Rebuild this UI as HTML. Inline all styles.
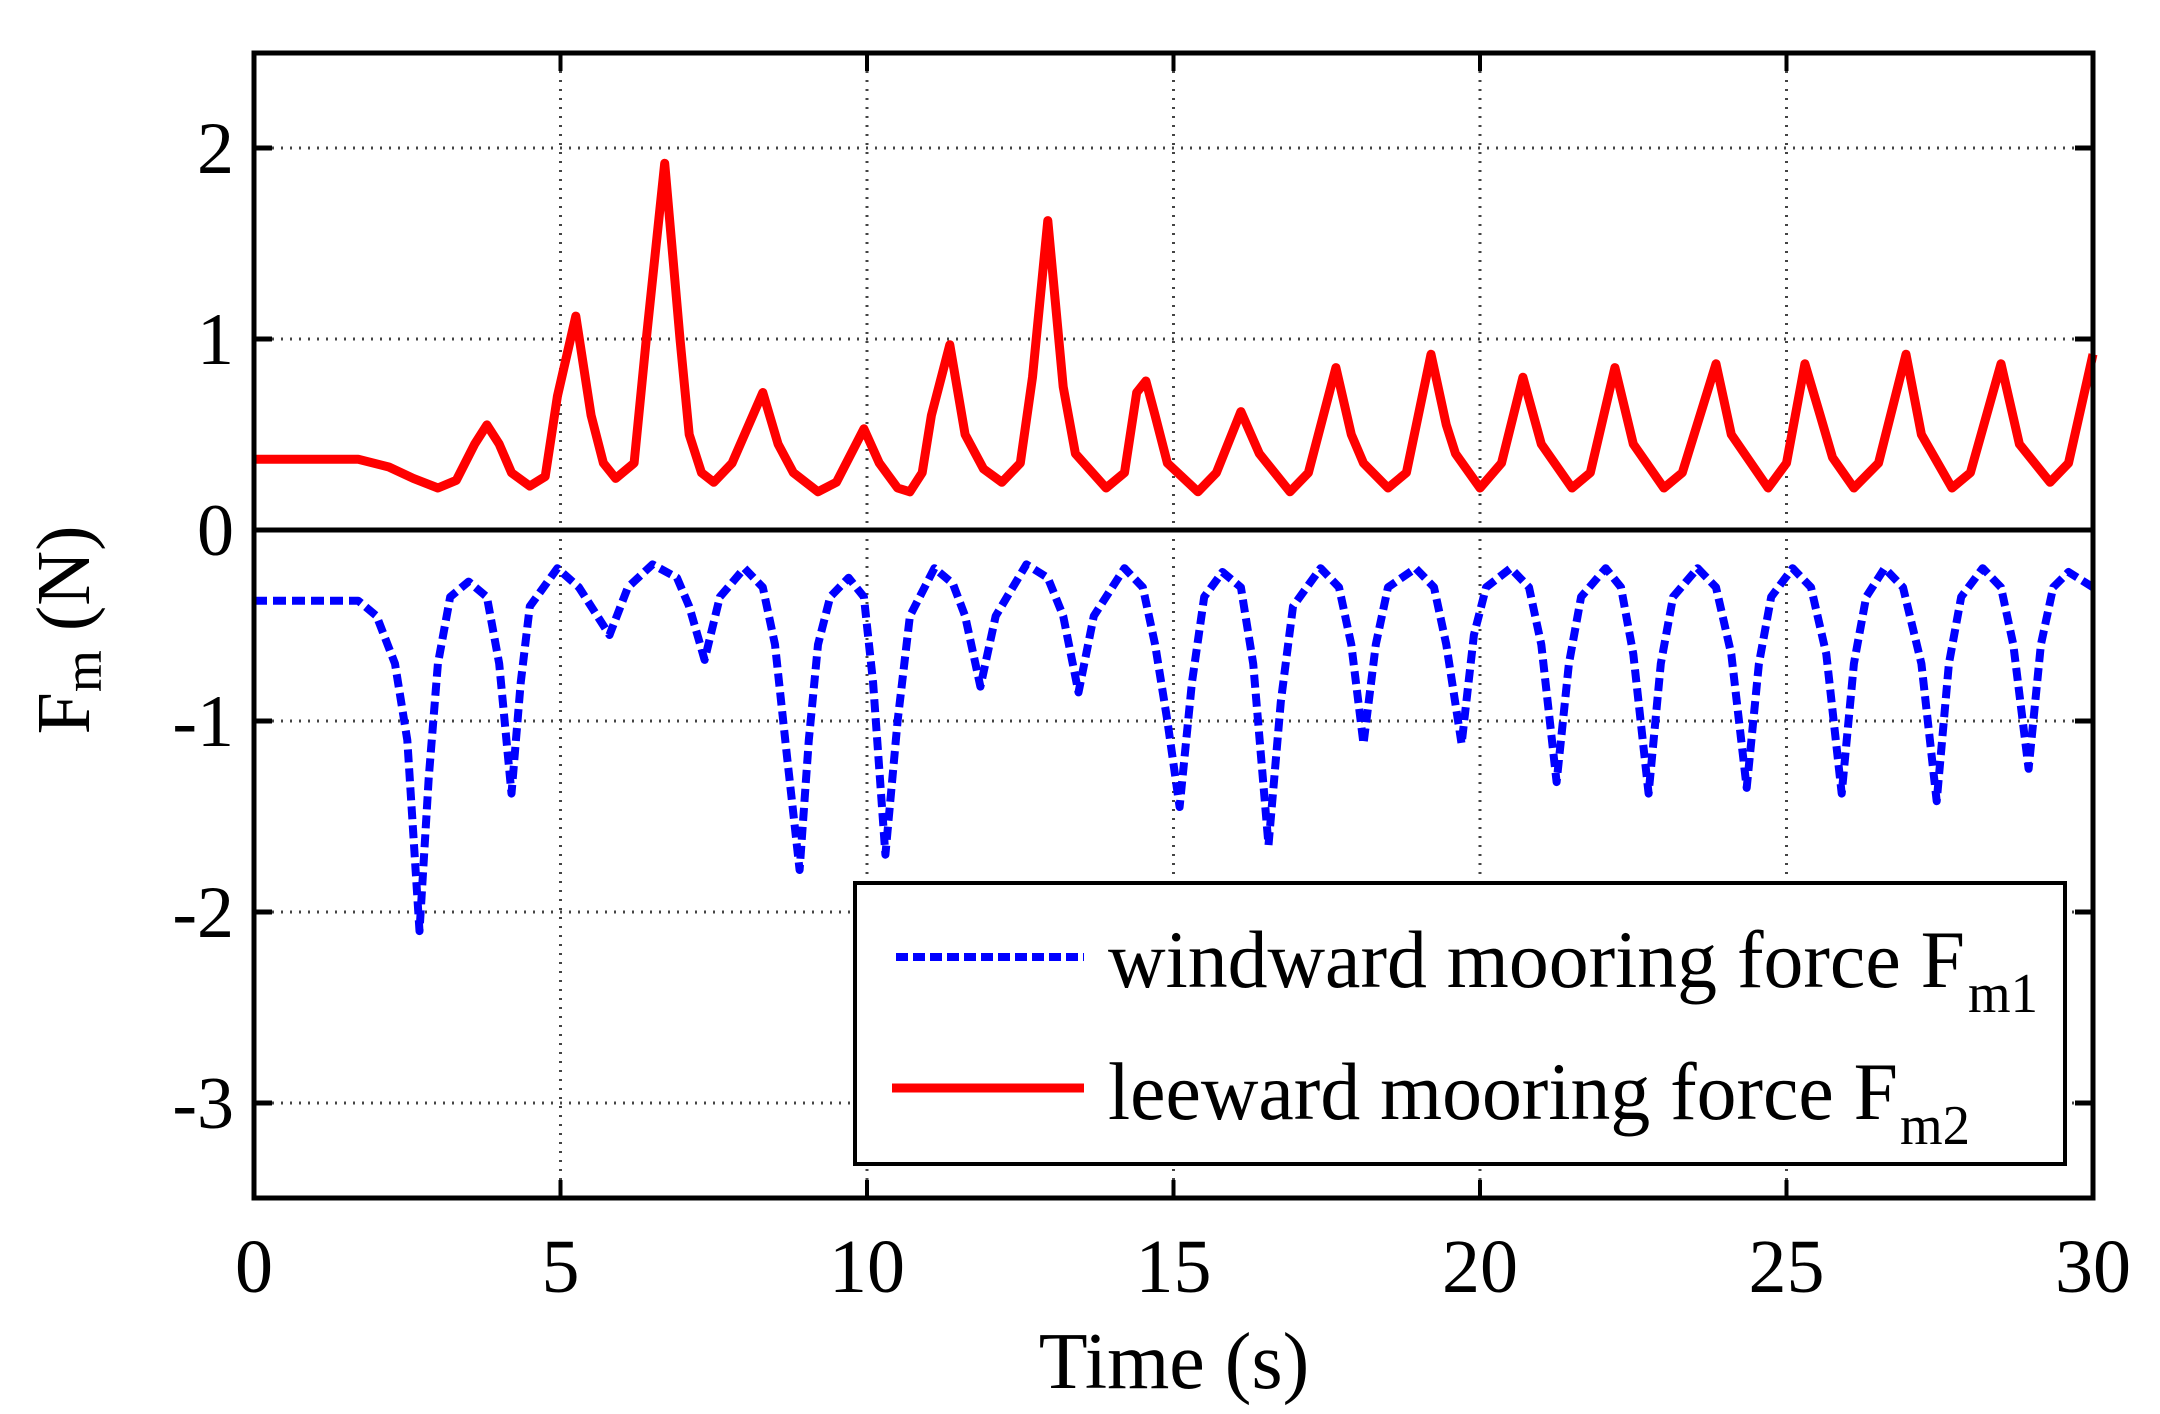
<!DOCTYPE html>
<html><head><meta charset="utf-8"><style>
html,body{margin:0;padding:0;background:#fff;}
svg{display:block;font-family:"Liberation Serif",serif;}
</style></head><body>
<svg id="chart" width="2160" height="1414" viewBox="0 0 2160 1414" xmlns="http://www.w3.org/2000/svg">
<g id="grid"></g>
<g id="series"></g>
<g id="axes"></g>
<text x="1174" y="1388" font-size="80" text-anchor="middle">Time (s)</text>
<text transform="translate(89,630) rotate(-90)" font-size="76" text-anchor="middle">F<tspan font-size="54" dy="12">m</tspan><tspan dy="-12"> (N)</tspan></text>
<g>
<rect x="855" y="883" width="1210" height="281" fill="#fff" stroke="#000" stroke-width="4"/>
<line x1="896" y1="957" x2="1084" y2="957" stroke="#0000ff" stroke-width="8" stroke-dasharray="12,5"/>
<text x="1108" y="987" font-size="82" textLength="857" lengthAdjust="spacingAndGlyphs">windward mooring force F</text>
<text x="1968" y="1012" font-size="56" textLength="70" lengthAdjust="spacingAndGlyphs">m1</text>
<line x1="892" y1="1088" x2="1084" y2="1088" stroke="#ff0000" stroke-width="9"/>
<text x="1108" y="1119" font-size="82" textLength="790" lengthAdjust="spacingAndGlyphs">leeward mooring force F</text>
<text x="1900" y="1144" font-size="56" textLength="70" lengthAdjust="spacingAndGlyphs">m2</text>
</g>
</svg>
<script>
const xTicks = [0,5,10,15,20,25,30];
const yTicks = [2,1,0,-1,-2,-3];
const leewardT = [0,1.7,2.2,2.6,3.0,3.3,3.6,3.8,4.0,4.2,4.5,4.75,4.95,5.25,5.5,5.7,5.9,6.2,6.4,6.7,6.95,7.1,7.3,7.5,7.8,8.3,8.55,8.8,9.2,9.5,9.95,10.2,10.5,10.7,10.9,11.05,11.35,11.6,11.9,12.2,12.5,12.7,12.95,13.2,13.4,13.9,14.2,14.4,14.55,14.7,14.9,15.4,15.7,16.1,16.4,16.9,17.2,17.65,17.9,18.1,18.5,18.8,19.2,19.45,19.6,20.0,20.35,20.7,21.0,21.5,21.8,22.2,22.5,23.0,23.3,23.85,24.1,24.7,25.0,25.3,25.55,25.75,26.1,26.5,26.95,27.2,27.7,28.0,28.5,28.8,29.3,29.6,30];
const leewardV = [.37,.37,.33,.27,.22,.26,.45,.55,.45,.3,.23,.28,.7,1.12,.6,.35,.27,.35,1.0,1.92,1.0,.5,.3,.25,.35,.72,.45,.3,.2,.25,.53,.35,.22,.2,.3,.6,.97,.5,.32,.25,.35,.8,1.62,.75,.4,.22,.3,.72,.78,.6,.35,.2,.3,.62,.4,.2,.3,.85,.5,.35,.22,.3,.92,.55,.4,.22,.35,.8,.45,.22,.3,.85,.45,.22,.3,.87,.5,.22,.35,.87,.6,.38,.22,.35,.92,.5,.22,.3,.87,.45,.25,.35,.92];
const windwardT = [0,1.7,2.0,2.3,2.5,2.7,2.85,3.0,3.2,3.5,3.8,4.0,4.2,4.35,4.5,4.95,5.3,5.8,6.1,6.5,6.9,7.1,7.35,7.6,8.0,8.3,8.5,8.7,8.9,9.05,9.2,9.4,9.7,9.95,10.1,10.3,10.5,10.7,11.1,11.4,11.6,11.85,12.1,12.6,12.95,13.2,13.45,13.7,14.2,14.5,14.7,14.9,15.1,15.3,15.5,15.8,16.1,16.3,16.55,16.75,16.95,17.4,17.7,17.9,18.1,18.3,18.5,18.95,19.25,19.45,19.7,19.9,20.1,20.5,20.8,21.0,21.25,21.45,21.65,22.05,22.3,22.5,22.75,22.95,23.15,23.55,23.85,24.1,24.35,24.55,24.75,25.1,25.4,25.65,25.9,26.1,26.3,26.6,26.9,27.2,27.45,27.65,27.85,28.2,28.5,28.7,28.95,29.15,29.35,29.6,30];
const windwardV = [-.37,-.37,-.45,-.7,-1.1,-2.1,-1.3,-.7,-.35,-.27,-.35,-.7,-1.38,-.8,-.4,-.2,-.3,-.55,-.3,-.18,-.25,-.4,-.68,-.35,-.2,-.3,-.6,-1.2,-1.78,-1.1,-.6,-.35,-.25,-.35,-.8,-1.7,-1.0,-.45,-.2,-.28,-.45,-.82,-.45,-.18,-.25,-.45,-.85,-.45,-.2,-.3,-.6,-1.0,-1.45,-.8,-.35,-.22,-.3,-.7,-1.65,-.9,-.4,-.2,-.3,-.6,-1.12,-.6,-.3,-.2,-.3,-.6,-1.12,-.55,-.3,-.2,-.3,-.6,-1.32,-.7,-.35,-.2,-.3,-.65,-1.38,-.7,-.35,-.2,-.3,-.65,-1.35,-.7,-.35,-.2,-.3,-.65,-1.38,-.7,-.35,-.2,-.3,-.7,-1.42,-.7,-.35,-.2,-.3,-.6,-1.25,-.6,-.3,-.22,-.3];

const L=254,R=2093,T=53,B=1198;
const X=t=>L+(t-0)/(30-0)*(R-L);
const Y=v=>530-v*191;
const NS='http://www.w3.org/2000/svg';
function mk(tag,parent,attrs){const e=document.createElementNS(NS,tag);for(const k in attrs)e.setAttribute(k,attrs[k]);parent.appendChild(e);return e;}
const grid=document.getElementById('grid'),axes=document.getElementById('axes'),series=document.getElementById('series');

xTicks.forEach(t=>{
  const x=X(t);
  if(t>0&&t<30){
    const g=mk('line',grid,{x1:x,y1:T,x2:x,y2:B,stroke:'#444','stroke-width':3,'stroke-dasharray':'2,7'});
    
    
  }
  const tk1=mk('line',axes,{x1:x,y1:T,x2:x,y2:T+18,stroke:'#000','stroke-width':4});
  
  
  const tk2=mk('line',axes,{x1:x,y1:B,x2:x,y2:B-18,stroke:'#000','stroke-width':4});
  
  
  const lb=mk('text',axes,{x:x,y:1292,'font-size':76,'text-anchor':'middle'});
  lb.textContent=t;
  
  
});
yTicks.forEach(v=>{
  const y=Y(v);
  if(v!==0){
    const g=mk('line',grid,{x1:L,y1:y,x2:R,y2:y,stroke:'#444','stroke-width':3,'stroke-dasharray':'2,7'});
    
    
  } else {
    const z=mk('line',axes,{x1:L,y1:y,x2:R,y2:y,stroke:'#000','stroke-width':5});
    
    
  }
  const tk1=mk('line',axes,{x1:L,y1:y,x2:L+18,y2:y,stroke:'#000','stroke-width':5});
  
  
  const tk2=mk('line',axes,{x1:R,y1:y,x2:R-18,y2:y,stroke:'#000','stroke-width':5});
  
  
  const lb=mk('text',axes,{x:234,y:y+25,'font-size':74,'text-anchor':'end'});
  lb.textContent=v;
  
  
});
const frame=mk('rect',axes,{x:L,y:T,width:R-L,height:B-T,fill:'none',stroke:'#000','stroke-width':5});



function pathFrom(ts,vs){return ts.map((t,i)=>(i?'L':'M')+X(t).toFixed(1)+','+Y(vs[i]).toFixed(1)).join(' ');}
const red=mk('path',series,{d:pathFrom(leewardT,leewardV),fill:'none',stroke:'#ff0000','stroke-width':9,'stroke-linejoin':'round'});


const blue=mk('path',series,{d:pathFrom(windwardT,windwardV),fill:'none',stroke:'#0000ff','stroke-width':8,'stroke-dasharray':'13,6','stroke-linejoin':'round'});


</script>
</body></html>
